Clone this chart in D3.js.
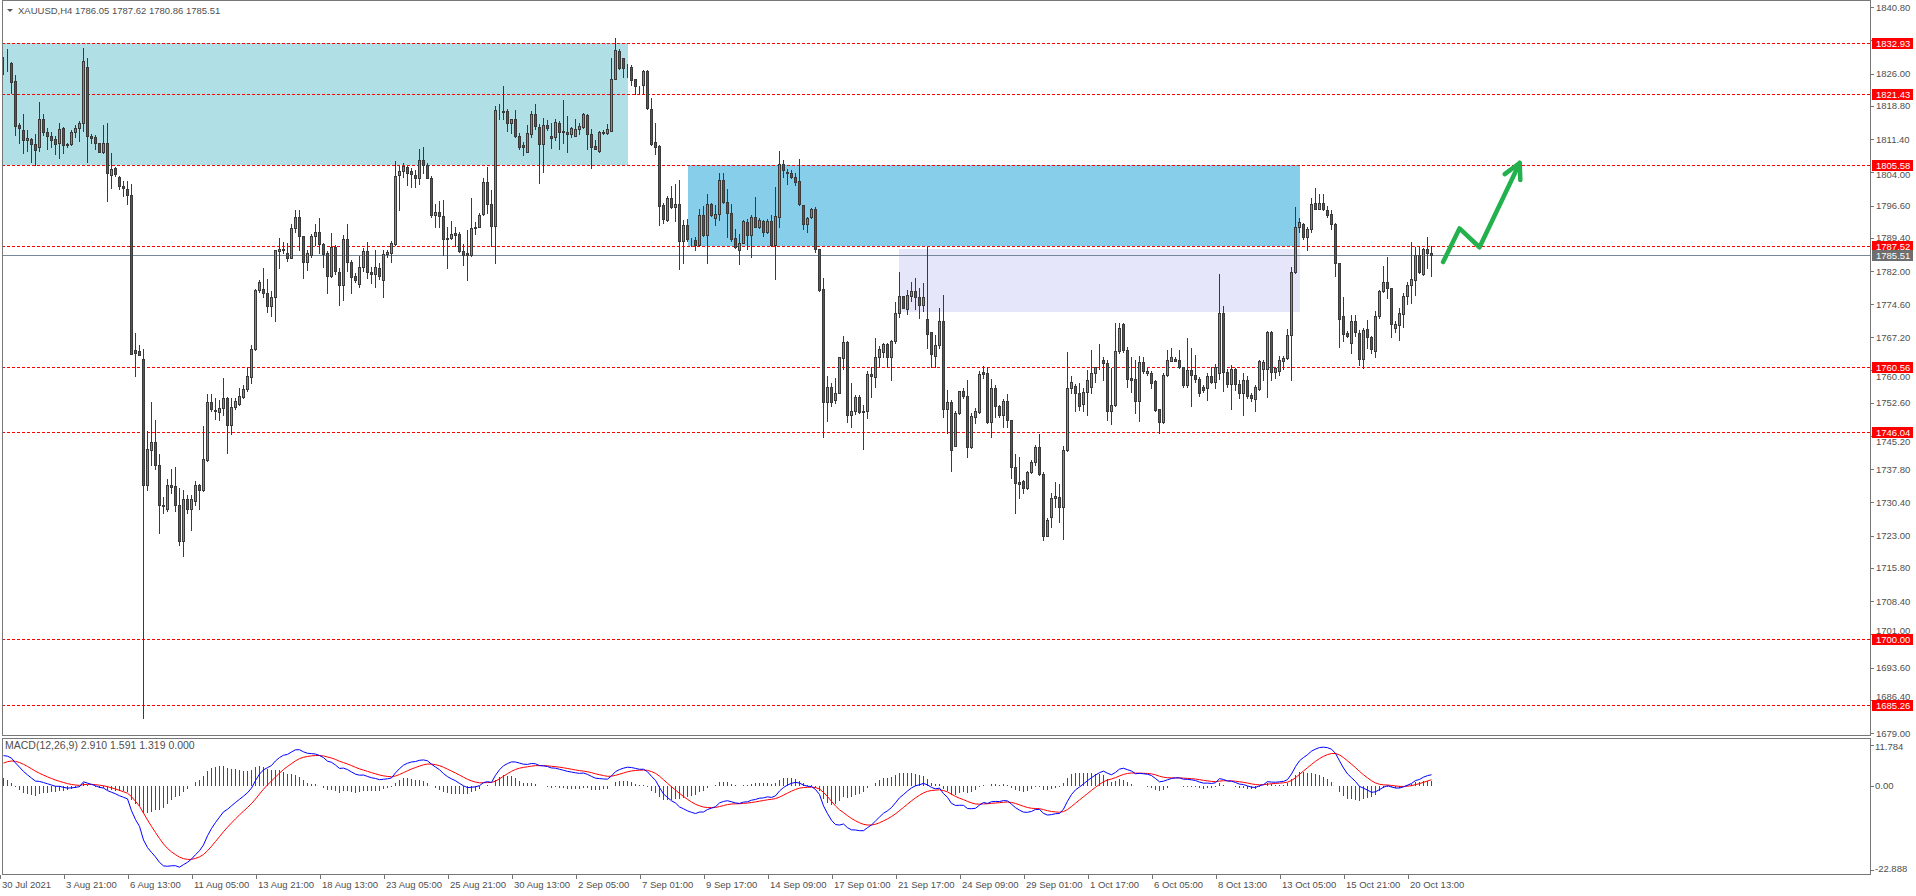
<!DOCTYPE html>
<html><head><meta charset="utf-8">
<script src="https://cdn.jsdelivr.net/npm/d3@7"></script>
<style>
html,body{margin:0;padding:0;background:#fff;overflow:hidden}
svg{display:block}
text{font-family:"Liberation Sans",Arial,sans-serif}
</style></head><body>
<svg id="c" width="1916" height="896"></svg>
<script>
// ---------------- DATA (XAUUSD H4) ----------------
const opens=[
1828.2,1828.2,1828.3,1824.3,1814.5,1813.4,1811.2,1811.5,1810.3,1809.7,
1815.8,1813.0,1812.2,1811.5,1810.5,1813.8,1810.3,1810.3,1812.9,1813.8,
1814.9,1827.6,1812.2,1811.8,1810.5,1808.6,1810.5,1803.5,1805.0,1802.9,
1800.9,1800.3,1798.9,1764.3,1764.1,1762.3,1734.4,1742.2,1743.8,1738.7,
1729.8,1729.0,1734.4,1734.0,1729.8,1721.9,1731.1,1729.0,1730.8,1734.2,
1733.2,1739.8,1752.7,1751.1,1750.6,1751.4,1753.8,1747.6,1751.6,1752.4,
1754.0,1755.8,1758.3,1764.7,1777.7,1778.0,1777.2,1774.3,1776.2,1786.5,
1787.0,1786.1,1784.9,1791.5,1794.1,1789.8,1784.1,1785.5,1789.9,1790.7,
1788.1,1786.0,1781.0,1787.3,1781.8,1778.8,1789.1,1784.1,1780.9,1779.1,
1783.0,1786.5,1781.7,1781.4,1782.7,1779.9,1785.7,1786.1,1788.0,1803.3,
1804.2,1805.2,1804.3,1803.4,1802.8,1806.7,1805.6,1802.7,1794.4,1795.1,
1794.3,1789.3,1789.3,1790.5,1790.2,1786.5,1786.0,1785.6,1791.5,1791.9,
1794.7,1801.8,1796.9,1792.1,1817.9,1817.6,1817.6,1815.1,1815.8,1812.2,
1810.0,1808.6,1812.6,1817.1,1814.2,1810.4,1814.5,1812.1,1811.9,1815.1,
1813.2,1813.1,1812.5,1812.2,1813.6,1814.2,1816.8,1812.5,1809.9,1808.7,
1812.8,1812.7,1813.3,1824.9,1831.0,1829.4,1827.6,1827.5,1824.8,1823.3,
1823.4,1826.5,1818.2,1810.7,1809.9,1796.7,1793.3,1798.2,1796.2,1796.9,
1788.8,1792.2,1789.0,1788.9,1787.7,1794.6,1790.1,1796.9,1793.8,1794.7,
1802.3,1797.4,1794.9,1789.3,1786.6,1788.3,1792.9,1790.0,1794.0,1791.9,
1793.2,1790.6,1793.2,1787.8,1794.1,1805.8,1804.0,1803.8,1802.9,1802.0,
1796.7,1792.4,1794.0,1795.8,1786.9,1777.9,1752.9,1756.2,1753.3,1754.9,
1762.7,1766.1,1749.8,1750.9,1754.0,1750.7,1750.7,1759.0,1758.3,1762.8,
1763.9,1765.7,1762.8,1766.5,1772.6,1776.4,1773.5,1776.5,1777.6,1776.3,
1774.4,1771.2,1768.3,1763.1,1765.4,1770.9,1751.2,1752.7,1743.1,1750.3,
1755.2,1754.2,1742.7,1749.5,1750.5,1759.4,1759.2,1748.4,1755.9,1751.8,
1749.8,1753.0,1748.8,1738.2,1735.0,1735.2,1733.6,1737.1,1739.4,1742.8,
1736.8,1723.0,1727.1,1731.3,1731.7,1729.3,1742.1,1755.9,1756.3,1754.7,
1752.3,1755.0,1756.2,1759.2,1761.9,1762.2,1761.4,1750.7,1752.1,1764.1,
1770.1,1764.3,1758.2,1757.9,1753.1,1761.7,1759.2,1759.2,1757.5,1751.2,
1748.4,1758.8,1762.0,1762.3,1762.2,1760.5,1756.5,1759.9,1758.8,1757.9,
1756.2,1755.9,1758.5,1757.3,1759.2,1772.6,1759.5,1756.8,1760.2,1756.8,
1754.7,1757.6,1754.4,1753.4,1755.8,1760.1,1760.1,1768.4,1759.4,1759.8,
1762.0,1762.5,1767.8,1781.7,1791.8,1792.4,1789.5,1791.3,1797.1,1795.9,
1797.1,1795.6,1794.7,1792.4,1783.7,1772.0,1768.2,1765.9,1770.8,1768.1,
1762.3,1769.0,1767.2,1764.1,1771.9,1777.5,1779.5,1778.2,1769.2,1770.0,
1772.4,1776.4,1778.8,1780.0,1785.5,1781.4,1786.9,1786.05];
const highs=[
1829.7,1831.4,1828.5,1825.7,1815.0,1816.9,1813.4,1811.6,1812.5,1819.7,
1816.9,1813.9,1813.1,1812.2,1814.9,1814.2,1810.6,1813.4,1814.6,1815.5,
1831.7,1829.4,1812.5,1812.4,1810.6,1814.5,1814.9,1808.3,1805.3,1803.2,
1802.0,1802.0,1801.3,1768.2,1765.6,1764.6,1746.4,1752.7,1748.7,1741.1,
1731.7,1735.6,1737.8,1738.3,1733.7,1733.1,1732.0,1732.0,1735.1,1734.6,
1747.4,1754.5,1754.5,1753.6,1753.2,1758.1,1753.9,1753.8,1753.7,1756.0,
1756.6,1760.4,1765.6,1778.1,1780.0,1782.7,1780.3,1777.5,1786.7,1789.4,
1788.5,1788.2,1792.4,1795.6,1795.6,1789.8,1786.7,1790.2,1792.4,1793.8,
1788.2,1786.4,1790.5,1787.8,1782.6,1790.0,1792.5,1784.5,1781.5,1785.4,
1787.1,1788.5,1782.8,1786.7,1783.7,1786.6,1786.7,1788.7,1806.5,1805.4,
1806.0,1805.5,1804.9,1804.5,1809.3,1809.6,1806.0,1803.2,1796.9,1797.6,
1797.8,1791.8,1793.2,1791.9,1790.6,1788.0,1791.2,1798.3,1793.0,1795.0,
1802.7,1805.3,1800.1,1818.8,1819.2,1823.2,1818.2,1816.0,1817.9,1812.7,
1810.8,1814.6,1817.6,1819.2,1814.8,1816.2,1815.7,1814.9,1815.8,1815.5,
1820.1,1816.5,1814.2,1816.0,1814.9,1817.3,1817.0,1813.6,1811.2,1813.2,
1813.4,1814.7,1829.4,1833.9,1831.5,1829.4,1828.1,1828.0,1824.9,1823.3,
1826.8,1826.8,1820.5,1815.1,1810.1,1797.1,1798.8,1801.0,1801.3,1802.3,
1793.4,1793.5,1789.3,1789.5,1795.8,1796.6,1799.2,1797.2,1796.7,1803.8,
1803.8,1800.2,1797.0,1791.3,1790.2,1793.4,1793.5,1794.4,1798.5,1793.8,
1793.4,1793.5,1794.5,1800.7,1808.8,1806.8,1804.8,1804.5,1803.8,1807.0,
1796.8,1794.1,1796.1,1796.2,1787.0,1780.4,1758.6,1757.0,1758.1,1762.8,
1767.5,1766.3,1757.0,1754.4,1754.4,1752.1,1759.6,1760.7,1767.0,1765.2,
1766.0,1766.0,1766.6,1775.0,1781.7,1776.5,1777.8,1779.5,1780.4,1778.2,
1779.3,1787.4,1768.3,1767.8,1773.7,1776.7,1755.5,1753.3,1750.7,1755.3,
1755.9,1757.7,1750.3,1751.4,1759.7,1760.8,1760.7,1757.9,1756.5,1752.1,
1753.4,1754.6,1748.8,1741.2,1740.6,1735.3,1737.5,1739.9,1743.2,1745.7,
1737.1,1726.9,1732.4,1735.0,1734.5,1743.1,1764.0,1758.6,1756.8,1757.0,
1755.9,1759.9,1764.4,1760.7,1765.7,1762.9,1762.2,1760.3,1770.5,1770.4,
1770.4,1765.1,1762.8,1762.2,1763.1,1762.9,1760.3,1759.6,1757.6,1751.3,
1759.2,1764.3,1764.8,1762.9,1764.3,1760.7,1767.0,1764.8,1763.3,1758.3,
1756.5,1759.2,1760.5,1761.3,1781.4,1774.2,1760.2,1761.1,1760.3,1757.7,
1759.2,1758.5,1754.7,1756.6,1762.2,1762.2,1768.6,1768.7,1760.7,1763.1,
1763.1,1769.0,1783.0,1796.2,1793.8,1792.7,1791.9,1798.2,1800.5,1799.2,
1799.2,1796.5,1795.5,1792.7,1783.8,1776.3,1768.6,1772.1,1772.1,1768.8,
1769.2,1771.1,1767.6,1773.0,1777.8,1783.1,1785.1,1778.3,1770.9,1773.7,
1777.0,1779.6,1788.5,1787.4,1787.3,1787.1,1789.5,1787.62];
const lows=[
1825.9,1826.5,1821.8,1812.4,1810.5,1808.4,1808.7,1806.3,1805.7,1808.7,
1812.4,1809.3,1809.7,1808.2,1807.1,1808.4,1809.7,1810.1,1811.9,1810.9,
1813.3,1806.4,1810.5,1809.1,1808.5,1808.4,1797.7,1800.5,1803.2,1800.3,
1798.8,1797.0,1763.4,1758.7,1763.2,1682.3,1733.2,1738.7,1737.8,1723.7,
1728.0,1728.6,1732.5,1728.6,1721.0,1718.4,1728.1,1724.2,1729.8,1729.0,
1732.9,1739.7,1750.9,1748.9,1748.7,1749.8,1741.5,1745.6,1751.3,1752.1,
1753.7,1755.2,1757.0,1764.5,1777.3,1776.2,1772.8,1772.0,1770.8,1782.6,
1786.0,1784.3,1784.8,1790.7,1786.7,1780.5,1782.2,1785.1,1787.9,1786.1,
1782.8,1777.2,1780.7,1781.3,1774.5,1775.6,1782.1,1777.2,1779.6,1778.5,
1782.1,1780.4,1779.3,1778.4,1780.2,1776.3,1785.1,1784.1,1787.8,1795.5,
1803.0,1801.2,1800.8,1800.7,1801.4,1803.8,1802.7,1794.1,1791.9,1791.9,
1785.6,1782.6,1789.2,1787.5,1786.2,1783.3,1780.1,1785.4,1790.2,1791.9,
1794.5,1794.9,1787.5,1783.9,1815.9,1816.0,1813.3,1812.7,1811.9,1809.1,
1807.9,1808.5,1811.8,1813.6,1801.7,1804.1,1813.4,1809.4,1811.2,1809.3,
1810.5,1808.6,1811.9,1812.1,1812.5,1814.0,1809.1,1804.9,1809.1,1808.6,
1812.5,1812.6,1813.2,1824.8,1827.1,1825.3,1825.3,1823.4,1821.4,1821.4,
1821.4,1818.2,1810.1,1808.2,1792.3,1792.8,1793.2,1796.1,1793.2,1782.4,
1783.9,1788.8,1787.6,1786.7,1787.6,1789.8,1783.9,1794.3,1792.3,1793.4,
1797.1,1789.5,1788.8,1787.2,1783.6,1788.2,1786.9,1785.2,1791.8,1791.5,
1789.7,1790.4,1787.6,1780.3,1791.9,1802.9,1801.3,1802.7,1801.2,1796.7,
1791.3,1790.6,1793.8,1786.3,1777.6,1745.1,1748.6,1751.8,1752.5,1754.8,
1760.1,1748.4,1747.3,1750.1,1750.3,1742.3,1749.2,1754.0,1756.1,1760.7,
1762.9,1760.5,1757.7,1765.9,1771.7,1773.7,1772.4,1775.4,1773.5,1771.5,
1773.0,1764.8,1760.7,1760.7,1764.8,1749.5,1745.8,1737.5,1743.0,1750.1,
1753.6,1740.5,1742.6,1748.2,1750.3,1758.1,1748.2,1744.9,1749.5,1749.5,
1747.2,1747.2,1735.8,1728.0,1731.3,1732.4,1733.3,1736.9,1738.8,1736.5,
1722.0,1722.9,1724.9,1729.3,1726.1,1722.2,1741.9,1754.9,1750.7,1751.0,
1750.9,1749.8,1754.7,1757.3,1760.2,1757.7,1748.8,1747.8,1751.9,1763.8,
1764.0,1756.2,1755.1,1750.4,1748.6,1759.2,1758.8,1755.9,1750.9,1745.8,
1748.1,1758.6,1761.9,1761.9,1760.3,1756.2,1756.2,1751.8,1757.3,1754.1,
1755.1,1753.3,1757.0,1756.0,1757.9,1755.3,1756.2,1751.2,1755.5,1753.6,
1749.9,1753.8,1753.1,1750.7,1755.5,1757.7,1754.0,1757.7,1758.2,1758.8,
1760.1,1762.3,1757.7,1781.5,1790.8,1789.2,1786.6,1790.8,1795.8,1795.8,
1795.6,1794.1,1791.4,1780.8,1765.0,1766.3,1767.4,1763.8,1767.5,1761.1,
1760.3,1764.9,1763.8,1762.9,1771.5,1777.3,1775.9,1767.2,1768.3,1766.6,
1769.5,1774.6,1774.8,1776.7,1781.5,1781.1,1782.6,1780.86];
const closes=[
1828.2,1828.1,1824.2,1814.4,1813.9,1811.2,1811.6,1810.3,1808.9,1815.8,
1813.1,1812.2,1811.2,1810.3,1813.6,1810.1,1810.2,1812.9,1813.8,1815.0,
1828.9,1812.2,1811.6,1810.5,1808.6,1810.5,1803.8,1804.8,1803.7,1800.9,
1800.5,1798.9,1763.5,1763.7,1763.3,1734.4,1742.4,1743.8,1738.7,1729.9,
1729.5,1734.4,1733.9,1729.8,1721.9,1731.1,1728.9,1731.1,1734.2,1733.2,
1740.0,1752.7,1751.3,1750.7,1751.5,1753.8,1747.6,1751.7,1753.0,1754.1,
1755.8,1758.5,1764.7,1777.7,1779.5,1777.2,1774.3,1776.2,1786.6,1786.8,
1786.7,1784.9,1791.5,1794.1,1789.8,1784.1,1786.1,1789.8,1790.7,1788.1,
1785.8,1780.9,1787.3,1781.9,1778.8,1789.1,1784.1,1780.7,1780.1,1782.8,
1786.5,1781.7,1781.4,1782.8,1780.9,1785.7,1786.2,1788.2,1803.2,1804.2,
1805.4,1803.9,1803.6,1802.8,1806.7,1805.6,1802.8,1794.6,1795.1,1794.2,
1789.2,1789.2,1790.3,1790.1,1786.4,1785.5,1785.6,1791.5,1791.8,1794.6,
1801.8,1796.9,1792.1,1817.9,1818.0,1817.5,1815.1,1815.9,1812.1,1809.7,
1809.6,1812.7,1817.1,1814.4,1810.4,1814.5,1814.0,1811.7,1815.3,1813.0,
1813.1,1812.6,1813.8,1813.6,1814.3,1817.0,1812.5,1809.6,1809.3,1812.9,
1812.9,1813.6,1824.9,1831.2,1827.3,1827.3,1827.5,1824.6,1823.3,1823.2,
1826.5,1818.4,1810.4,1809.7,1796.4,1793.6,1798.2,1796.2,1796.9,1788.8,
1792.2,1789.1,1788.9,1787.7,1794.6,1790.1,1796.9,1794.4,1794.7,1802.3,
1797.3,1794.9,1789.2,1787.4,1788.3,1793.2,1790.0,1794.0,1791.9,1793.4,
1790.8,1793.2,1787.8,1794.3,1805.8,1804.5,1803.8,1802.9,1801.8,1796.9,
1792.4,1793.8,1795.8,1786.9,1777.8,1752.9,1756.2,1752.9,1754.9,1762.8,
1766.1,1749.8,1750.7,1754.0,1750.5,1750.6,1759.0,1758.5,1762.8,1764.6,
1765.7,1762.8,1766.3,1772.7,1776.4,1773.8,1776.6,1777.6,1776.3,1774.4,
1776.2,1767.9,1763.4,1765.5,1770.9,1751.2,1752.7,1742.0,1750.3,1755.2,
1754.1,1742.7,1749.7,1750.7,1759.0,1759.0,1748.4,1755.9,1751.8,1749.9,
1753.0,1748.8,1738.2,1734.7,1734.5,1733.6,1737.2,1739.4,1742.8,1736.8,
1723.0,1726.4,1731.3,1731.9,1729.3,1742.1,1755.9,1757.2,1754.7,1752.0,
1755.0,1757.6,1759.2,1760.5,1762.0,1761.4,1750.9,1752.1,1764.1,1769.2,
1764.3,1758.0,1757.8,1753.1,1761.7,1759.8,1759.7,1757.1,1751.0,1748.4,
1758.8,1762.2,1762.8,1762.0,1760.5,1756.5,1759.9,1758.8,1757.9,1754.9,
1755.5,1758.5,1757.3,1760.5,1772.6,1759.4,1756.8,1760.1,1756.8,1754.7,
1757.6,1754.1,1753.8,1756.1,1761.9,1761.7,1768.4,1759.4,1760.3,1762.1,
1762.5,1767.8,1781.7,1791.8,1792.9,1789.5,1791.4,1797.0,1795.9,1797.1,
1795.9,1794.4,1792.4,1783.7,1771.4,1767.9,1767.6,1770.8,1768.3,1762.3,
1768.8,1767.2,1764.6,1771.9,1777.5,1779.6,1778.2,1770.2,1770.1,1772.6,
1776.4,1778.9,1780.2,1785.5,1781.7,1786.9,1786.1,1785.51];

const timeLabels=["30 Jul 2021","3 Aug 21:00","6 Aug 13:00","11 Aug 05:00","13 Aug 21:00","18 Aug 13:00","23 Aug 05:00","25 Aug 21:00","30 Aug 13:00","2 Sep 05:00","7 Sep 01:00","9 Sep 17:00","14 Sep 09:00","17 Sep 01:00","21 Sep 17:00","24 Sep 09:00","29 Sep 01:00","1 Oct 17:00","6 Oct 05:00","8 Oct 13:00","13 Oct 05:00","15 Oct 21:00","20 Oct 13:00"];
const barsPerLabel=16;
const priceTicks=[1840.80,1833.40,1826.00,1818.80,1811.40,1804.00,1796.60,1789.40,1782.00,1774.60,1767.20,1760.00,1752.60,1745.20,1737.80,1730.40,1723.00,1715.80,1708.40,1701.00,1693.60,1686.40,1679.00];
const priceDomain=[1679.00,1840.80];
const levelLines=[1832.93,1821.43,1805.58,1787.52,1760.56,1746.04,1700.00,1685.26];
const lastPrice=1785.51;
// zones: [startBar, endBar], [topPrice, bottomPrice]
const zoneBars=[[-2,156],[171,324],[224,324]];
const zonePrices=[[1832.93,1805.58],[1805.58,1787.52],[1786.98,1772.93]];
const zoneColors=["#B0E0E6","#87CEEB","#E6E6FA"];
// hand-drawn arrow: [bar, price]
const arrowLine=[[359.9,1784.0],[364.0,1791.5],[369.0,1787.3],[379.05,1806.1]];
const arrowHead=[[375.3,1803.6],[379.05,1806.1],[379.2,1802.3]];
// MACD(12,26,9) panel
const macdTicks=[11.784,0.00,-22.888];
const macdTickText=["11.784","0.00","-22.888"];
const macdDomain=[-22.888,11.784];
const macdStart=[1821.5,1813.5,5.5]; // EMA12, EMA26, signal state before first bar
const headerText="XAUUSD,H4  1786.05 1787.62 1780.86 1785.51";
const macdText="MACD(12,26,9) 2.910 1.591 1.319 0.000";

// ---------------- DRAW ----------------
const svg=d3.select("#c");
const L=2, R=1871, T=0, B=736, MT=738, MB=875;
const n=closes.length;
const x=d3.scaleLinear().domain([0,n-1]).range([3.5,3.5+4*(n-1)]);
const y=d3.scaleLinear().domain(priceDomain).range([733,7.3]);
const ym=d3.scaleLinear().domain(macdDomain).range([873,741]);
const snap=v=>Math.round(v)+0.5;
const axisColor="#4f4f4f";

svg.append("defs").append("clipPath").attr("id","mainClip").append("rect").attr("x",L).attr("y",T).attr("width",R-L).attr("height",B-T);
svg.select("defs").append("clipPath").attr("id","macdClip").append("rect").attr("x",L).attr("y",MT).attr("width",R-L).attr("height",MB-MT);

const main=svg.append("g").attr("clip-path","url(#mainClip)");
main.selectAll("rect.zone").data(zoneBars).join("rect").attr("class","zone")
 .attr("x",(d)=>Math.round(x(d[0])))
 .attr("width",(d)=>Math.round(x(d[1]))-Math.round(x(d[0])))
 .attr("y",(d,i)=>Math.round(y(zonePrices[i][0])))
 .attr("height",(d,i)=>Math.round(y(zonePrices[i][1]))-Math.round(y(zonePrices[i][0])))
 .attr("fill",(d,i)=>zoneColors[i]);
main.selectAll("line.lvl").data(levelLines).join("line").attr("class","lvl")
 .attr("x1",L).attr("x2",R).attr("y1",d=>snap(y(d))).attr("y2",d=>snap(y(d)))
 .attr("stroke","#ff0000").attr("stroke-width",1).attr("stroke-dasharray","3,2").attr("shape-rendering","crispEdges");
main.append("line").attr("x1",L).attr("x2",R).attr("y1",snap(y(lastPrice))).attr("y2",snap(y(lastPrice)))
 .attr("stroke","#778899").attr("stroke-width",1).attr("shape-rendering","crispEdges");

// candles
const idx=d3.range(n);
const cg=main.append("g").attr("shape-rendering","crispEdges");
cg.selectAll("line.wick").data(idx).join("line").attr("class","wick")
 .attr("x1",i=>x(i)).attr("x2",i=>x(i))
 .attr("y1",i=>Math.round(y(highs[i]))).attr("y2",i=>Math.round(y(lows[i]))+1)
 .attr("stroke","#3a3a3a").attr("stroke-width",1);
cg.selectAll("rect.body").data(idx).join("rect").attr("class","body")
 .attr("x",i=>x(i)-1).attr("width",2)
 .attr("y",i=>snap(y(Math.max(opens[i],closes[i]))))
 .attr("height",i=>Math.max(0,Math.round(y(Math.min(opens[i],closes[i])))-Math.round(y(Math.max(opens[i],closes[i])))))
 .attr("fill",i=>closes[i]>=opens[i]?"#1fd41f":"#e01b1b")
 .attr("stroke","#3a3a3a").attr("stroke-width",1);

// arrow
const al=d3.line().x(d=>x(d[0])).y(d=>y(d[1]));
[arrowLine,arrowHead].forEach(p=>svg.append("path").attr("d",al(p)).attr("fill","none").attr("stroke","#22B14C").attr("stroke-width",4.5).attr("stroke-linejoin","round").attr("stroke-linecap","round"));

// frames
svg.append("rect").attr("x",L+0.5).attr("y",T+0.5).attr("width",R-L-1).attr("height",B-T-1).attr("fill","none").attr("stroke","#777").attr("shape-rendering","crispEdges");
svg.append("rect").attr("x",L+0.5).attr("y",MT+0.5).attr("width",R-L-1).attr("height",MB-MT-1).attr("fill","none").attr("stroke","#777").attr("shape-rendering","crispEdges");

// header
svg.append("path").attr("d","M7,9 L13,9 L10,12 Z").attr("fill","#555");
svg.append("text").attr("x",18).attr("y",14).attr("font-size",9.5).attr("fill",axisColor).text(headerText);

// price axis; labels partly under a level box are nudged clear of it
const boxOf=v=>{const c=Math.round(y(v));return [c-5,c+6];};
function labelY(t){
  const ty=y(t);
  for(const lv of levelLines){
    const ly=y(lv), d=ty-ly;
    if(Math.abs(d)<2.5) return ty;           // fully hidden under the box, as in MT4
    if(Math.abs(d)<9){const b=boxOf(lv); return d<0? b[0]-4 : b[1]+3.8;}
  }
  return ty;
}
const pa=svg.append("g");
pa.selectAll("line").data(priceTicks).join("line").attr("x1",R).attr("x2",R+3)
 .attr("y1",d=>snap(y(d))).attr("y2",d=>snap(y(d))).attr("stroke","#777").attr("shape-rendering","crispEdges");
pa.selectAll("text").data(priceTicks).join("text").attr("x",R+5).attr("y",d=>labelY(d)+3.5)
 .attr("font-size",9.5).attr("fill",axisColor).text(d=>d.toFixed(2));
const ll=svg.append("g");
ll.selectAll("rect").data(levelLines).join("rect").attr("x",R+1).attr("width",41).attr("y",d=>boxOf(d)[0]).attr("height",11).attr("fill","#ff0000");
ll.selectAll("text").data(levelLines).join("text").attr("x",R+5).attr("y",d=>Math.round(y(d))+4)
 .attr("font-size",9.5).attr("fill","#fff").text(d=>d.toFixed(2));
ll.append("rect").attr("x",R+1).attr("width",41).attr("y",Math.round(y(lastPrice))-5).attr("height",11).attr("fill","#6e6e6e");
ll.append("text").attr("x",R+5).attr("y",Math.round(y(lastPrice))+4).attr("font-size",9.5).attr("fill","#fff").text(lastPrice.toFixed(2));

// MACD (12,26,9) derived from the close series
const macd=[],signal=[],hist=[];
let e12=macdStart[0],e26=macdStart[1],sg=macdStart[2];
closes.forEach(c=>{e12+=(c-e12)*2/13;e26+=(c-e26)*2/27;const m=e12-e26;sg+=(m-sg)*2/10;macd.push(m);signal.push(sg);hist.push(m-sg);});
const mg=svg.append("g").attr("clip-path","url(#macdClip)");
mg.selectAll("line.h").data(idx).join("line").attr("class","h")
 .attr("x1",i=>x(i)).attr("x2",i=>x(i)).attr("y1",ym(0)).attr("y2",i=>ym(hist[i]))
 .attr("stroke",i=>hist[i]>=0?"#008000":"#ff0000").attr("stroke-width",1).attr("shape-rendering","crispEdges");
const ml=d3.line().x((d,i)=>x(i)).y(d=>ym(d));
mg.append("path").attr("d",ml(signal)).attr("fill","none").attr("stroke","#ff0000").attr("stroke-width",1);
mg.append("path").attr("d",ml(macd)).attr("fill","none").attr("stroke","#0000ff").attr("stroke-width",1);
svg.append("text").attr("x",5).attr("y",748.5).attr("font-size",10.5).attr("fill",axisColor).text(macdText);
const mt=svg.append("g");
mt.selectAll("line").data(macdTicks).join("line").attr("x1",R).attr("x2",R+3)
 .attr("y1",d=>snap(Math.min(Math.max(ym(d),745),870))).attr("y2",d=>snap(Math.min(Math.max(ym(d),745),870))).attr("stroke","#777");
mt.selectAll("text").data(macdTicks).join("text").attr("x",R+4).attr("y",d=>Math.min(Math.max(ym(d),746),868)+3.5)
 .attr("font-size",9.5).attr("fill",axisColor).text((d,i)=>macdTickText[i]);

// time axis
const tb=timeLabels.map((t,k)=>k*barsPerLabel);
const ta=svg.append("g");
ta.selectAll("line").data(tb).join("line").attr("x1",i=>x(i)-3).attr("x2",i=>x(i)-3).attr("y1",MB).attr("y2",MB+4).attr("stroke","#777").attr("shape-rendering","crispEdges");
ta.selectAll("text").data(tb).join("text").attr("x",i=>x(i)-1.5).attr("y",888).attr("font-size",9.5).attr("fill",axisColor).text((i,k)=>timeLabels[k]);
</script>
</body></html>
